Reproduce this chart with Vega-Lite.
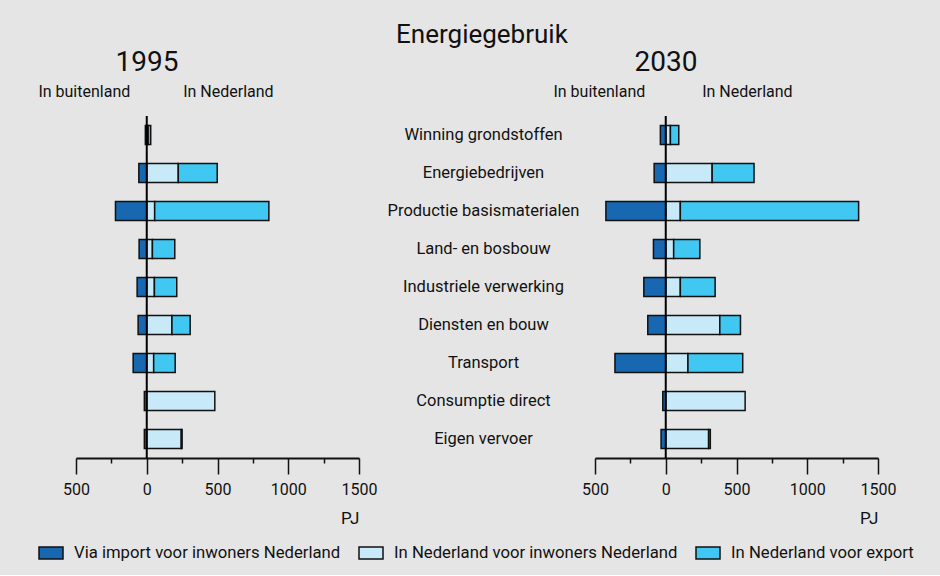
{
  "$schema": "https://vega.github.io/schema/vega-lite/v6.json",
  "background": "#e5e5e5",
  "padding": {"left": 37, "top": 22, "right": 36, "bottom": 13},
  "title": {"text": "Energiegebruik", "fontSize": 26, "fontWeight": "normal", "color": "#111", "anchor": "middle", "dx": 6, "offset": 1},
  "datasets": {
    "energie": [
      {"year": 1995, "sector": "Winning grondstoffen", "type": "Via import voor inwoners Nederland", "pj": -10},
      {"year": 1995, "sector": "Winning grondstoffen", "type": "In Nederland voor inwoners Nederland", "pj": 10},
      {"year": 1995, "sector": "Winning grondstoffen", "type": "In Nederland voor export", "pj": 18},
      {"year": 1995, "sector": "Energiebedrijven", "type": "Via import voor inwoners Nederland", "pj": -56},
      {"year": 1995, "sector": "Energiebedrijven", "type": "In Nederland voor inwoners Nederland", "pj": 223},
      {"year": 1995, "sector": "Energiebedrijven", "type": "In Nederland voor export", "pj": 275},
      {"year": 1995, "sector": "Productie basismaterialen", "type": "Via import voor inwoners Nederland", "pj": -221},
      {"year": 1995, "sector": "Productie basismaterialen", "type": "In Nederland voor inwoners Nederland", "pj": 56},
      {"year": 1995, "sector": "Productie basismaterialen", "type": "In Nederland voor export", "pj": 807},
      {"year": 1995, "sector": "Land- en bosbouw", "type": "Via import voor inwoners Nederland", "pj": -54},
      {"year": 1995, "sector": "Land- en bosbouw", "type": "In Nederland voor inwoners Nederland", "pj": 40},
      {"year": 1995, "sector": "Land- en bosbouw", "type": "In Nederland voor export", "pj": 158},
      {"year": 1995, "sector": "Industriele verwerking", "type": "Via import voor inwoners Nederland", "pj": -68},
      {"year": 1995, "sector": "Industriele verwerking", "type": "In Nederland voor inwoners Nederland", "pj": 54},
      {"year": 1995, "sector": "Industriele verwerking", "type": "In Nederland voor export", "pj": 158},
      {"year": 1995, "sector": "Diensten en bouw", "type": "Via import voor inwoners Nederland", "pj": -61},
      {"year": 1995, "sector": "Diensten en bouw", "type": "In Nederland voor inwoners Nederland", "pj": 178},
      {"year": 1995, "sector": "Diensten en bouw", "type": "In Nederland voor export", "pj": 129},
      {"year": 1995, "sector": "Transport", "type": "Via import voor inwoners Nederland", "pj": -96},
      {"year": 1995, "sector": "Transport", "type": "In Nederland voor inwoners Nederland", "pj": 49},
      {"year": 1995, "sector": "Transport", "type": "In Nederland voor export", "pj": 152},
      {"year": 1995, "sector": "Consumptie direct", "type": "Via import voor inwoners Nederland", "pj": -17},
      {"year": 1995, "sector": "Consumptie direct", "type": "In Nederland voor inwoners Nederland", "pj": 481},
      {"year": 1995, "sector": "Eigen vervoer", "type": "Via import voor inwoners Nederland", "pj": -17},
      {"year": 1995, "sector": "Eigen vervoer", "type": "In Nederland voor inwoners Nederland", "pj": 244},
      {"year": 1995, "sector": "Eigen vervoer", "type": "In Nederland voor export", "pj": 6},
      {"year": 2030, "sector": "Winning grondstoffen", "type": "Via import voor inwoners Nederland", "pj": -38},
      {"year": 2030, "sector": "Winning grondstoffen", "type": "In Nederland voor inwoners Nederland", "pj": 33},
      {"year": 2030, "sector": "Winning grondstoffen", "type": "In Nederland voor export", "pj": 59},
      {"year": 2030, "sector": "Energiebedrijven", "type": "Via import voor inwoners Nederland", "pj": -82},
      {"year": 2030, "sector": "Energiebedrijven", "type": "In Nederland voor inwoners Nederland", "pj": 328},
      {"year": 2030, "sector": "Energiebedrijven", "type": "In Nederland voor export", "pj": 296},
      {"year": 2030, "sector": "Productie basismaterialen", "type": "Via import voor inwoners Nederland", "pj": -423},
      {"year": 2030, "sector": "Productie basismaterialen", "type": "In Nederland voor inwoners Nederland", "pj": 103},
      {"year": 2030, "sector": "Productie basismaterialen", "type": "In Nederland voor export", "pj": 1260},
      {"year": 2030, "sector": "Land- en bosbouw", "type": "Via import voor inwoners Nederland", "pj": -87},
      {"year": 2030, "sector": "Land- en bosbouw", "type": "In Nederland voor inwoners Nederland", "pj": 56},
      {"year": 2030, "sector": "Land- en bosbouw", "type": "In Nederland voor export", "pj": 185},
      {"year": 2030, "sector": "Industriele verwerking", "type": "Via import voor inwoners Nederland", "pj": -155},
      {"year": 2030, "sector": "Industriele verwerking", "type": "In Nederland voor inwoners Nederland", "pj": 103},
      {"year": 2030, "sector": "Industriele verwerking", "type": "In Nederland voor export", "pj": 246},
      {"year": 2030, "sector": "Diensten en bouw", "type": "Via import voor inwoners Nederland", "pj": -127},
      {"year": 2030, "sector": "Diensten en bouw", "type": "In Nederland voor inwoners Nederland", "pj": 382},
      {"year": 2030, "sector": "Diensten en bouw", "type": "In Nederland voor export", "pj": 146},
      {"year": 2030, "sector": "Transport", "type": "Via import voor inwoners Nederland", "pj": -359},
      {"year": 2030, "sector": "Transport", "type": "In Nederland voor inwoners Nederland", "pj": 157},
      {"year": 2030, "sector": "Transport", "type": "In Nederland voor export", "pj": 387},
      {"year": 2030, "sector": "Consumptie direct", "type": "Via import voor inwoners Nederland", "pj": -21},
      {"year": 2030, "sector": "Consumptie direct", "type": "In Nederland voor inwoners Nederland", "pj": 561},
      {"year": 2030, "sector": "Eigen vervoer", "type": "Via import voor inwoners Nederland", "pj": -33},
      {"year": 2030, "sector": "Eigen vervoer", "type": "In Nederland voor inwoners Nederland", "pj": 303},
      {"year": 2030, "sector": "Eigen vervoer", "type": "In Nederland voor export", "pj": 12}
    ],
    "zero": [{"pj": 0}]
  },
  "data": {"name": "energie"},
  "spacing": 236,
  "bounds": "flush",
  "hconcat": [
    {
      "width": 283,
      "height": 342,
      "title": {"text": "1995", "anchor": "start", "frame": "group", "align": "center", "dx": 71, "fontSize": 28, "fontWeight": "normal", "color": "#111", "offset": 6},
      "layer": [
        {
          "transform": [{"filter": "datum.year === 1995"}],
          "mark": {"type": "bar", "stroke": "#111", "strokeWidth": 1.5},
          "encoding": {
            "y": {"field": "sector", "type": "nominal", "sort": ["Winning grondstoffen", "Energiebedrijven", "Productie basismaterialen", "Land- en bosbouw", "Industriele verwerking", "Diensten en bouw", "Transport", "Consumptie direct", "Eigen vervoer"], "axis": null, "scale": {"paddingInner": 0.5, "paddingOuter": 0.25}},
            "x": {"field": "pj", "type": "quantitative", "stack": "zero", "scale": {"domain": [-500, 1500], "nice": false},
              "axis": {"orient": "bottom", "values": [-500, -250, 0, 250, 500, 750, 1000, 1250, 1500], "labelExpr": "datum.value % 500 === 0 ? format(abs(datum.value), 'd') : ''", "tickSize": {"condition": {"test": "datum.value % 500 === 0", "value": 16}, "value": 5}, "tickColor": "#111", "tickWidth": 1.5, "domainColor": "#111", "domainWidth": 2, "labelFontSize": 16, "labelPadding": 7, "labelFlush": false, "labelOverlap": false, "labelColor": "#111", "grid": false, "title": "PJ", "titleAnchor": "end", "titleAlign": "right", "titleFontSize": 17, "titleFontWeight": "normal", "titleColor": "#111", "titlePadding": 13}},
            "color": {"field": "type", "type": "nominal",
              "scale": {"domain": ["Via import voor inwoners Nederland", "In Nederland voor inwoners Nederland", "In Nederland voor export"], "range": ["#1767b1", "#c7e9f8", "#41c8f2"]},
              "legend": {"orient": "none", "legendX": -38, "legendY": 424, "direction": "horizontal", "title": null, "symbolType": "M-1,-0.5H1V0.5H-1Z", "symbolSize": 576, "symbolStrokeColor": "#111", "symbolStrokeWidth": 1.5, "labelFontSize": 16.7, "labelColor": "#111", "labelOffset": 10, "columnPadding": 15, "labelLimit": 0}},
            "order": {"field": "type", "sort": "descending"}
          }
        },
        {
          "data": {"name": "zero"},
          "mark": {"type": "rule", "strokeWidth": 2, "color": "#000"},
          "encoding": {
            "x": {"field": "pj", "type": "quantitative",
              "axis": {"orient": "top", "values": [-120, 254], "labelExpr": "datum.value < 0 ? 'In buitenland' : 'In Nederland'", "labelAlign": {"condition": {"test": "datum.value < 0", "value": "right"}, "value": "left"}, "ticks": false, "tickSize": 0, "domain": false, "grid": false, "labelPadding": 17, "labelFontSize": 16, "labelColor": "#111", "labelFlush": false, "labelOverlap": false, "title": null}}
          }
        }
      ],
      "resolve": {"axis": {"x": "independent"}}
    },
    {
      "width": 283,
      "height": 342,
      "title": {"text": "2030", "anchor": "start", "frame": "group", "align": "center", "dx": 71, "fontSize": 28, "fontWeight": "normal", "color": "#111", "offset": 6},
      "layer": [
        {
          "transform": [{"filter": "datum.year === 2030"}],
          "mark": {"type": "bar", "stroke": "#111", "strokeWidth": 1.5},
          "encoding": {
            "y": {"field": "sector", "type": "nominal", "sort": ["Winning grondstoffen", "Energiebedrijven", "Productie basismaterialen", "Land- en bosbouw", "Industriele verwerking", "Diensten en bouw", "Transport", "Consumptie direct", "Eigen vervoer"], "scale": {"paddingInner": 0.5, "paddingOuter": 0.25},
              "axis": {"orient": "left", "title": null, "ticks": false, "tickSize": 0, "domain": false, "grid": false, "labelAlign": "center", "labelPadding": 112, "labelFontSize": 16.5, "labelColor": "#111", "labelLimit": 0}},
            "x": {"field": "pj", "type": "quantitative", "stack": "zero", "scale": {"domain": [-500, 1500], "nice": false},
              "axis": {"orient": "bottom", "values": [-500, -250, 0, 250, 500, 750, 1000, 1250, 1500], "labelExpr": "datum.value % 500 === 0 ? format(abs(datum.value), 'd') : ''", "tickSize": {"condition": {"test": "datum.value % 500 === 0", "value": 16}, "value": 5}, "tickColor": "#111", "tickWidth": 1.5, "domainColor": "#111", "domainWidth": 2, "labelFontSize": 16, "labelPadding": 7, "labelFlush": false, "labelOverlap": false, "labelColor": "#111", "grid": false, "title": "PJ", "titleAnchor": "end", "titleAlign": "right", "titleFontSize": 17, "titleFontWeight": "normal", "titleColor": "#111", "titlePadding": 13}},
            "color": {"field": "type", "type": "nominal",
              "scale": {"domain": ["Via import voor inwoners Nederland", "In Nederland voor inwoners Nederland", "In Nederland voor export"], "range": ["#1767b1", "#c7e9f8", "#41c8f2"]}},
            "order": {"field": "type", "sort": "descending"}
          }
        },
        {
          "data": {"name": "zero"},
          "mark": {"type": "rule", "strokeWidth": 2, "color": "#000"},
          "encoding": {
            "x": {"field": "pj", "type": "quantitative",
              "axis": {"orient": "top", "values": [-148, 254], "labelExpr": "datum.value < 0 ? 'In buitenland' : 'In Nederland'", "labelAlign": {"condition": {"test": "datum.value < 0", "value": "right"}, "value": "left"}, "ticks": false, "tickSize": 0, "domain": false, "grid": false, "labelPadding": 17, "labelFontSize": 16, "labelColor": "#111", "labelFlush": false, "labelOverlap": false, "title": null}}
          }
        }
      ],
      "resolve": {"axis": {"x": "independent"}}
    }
  ],
  "config": {
    "font": "Roboto",
    "view": {"stroke": null}
  }
}
